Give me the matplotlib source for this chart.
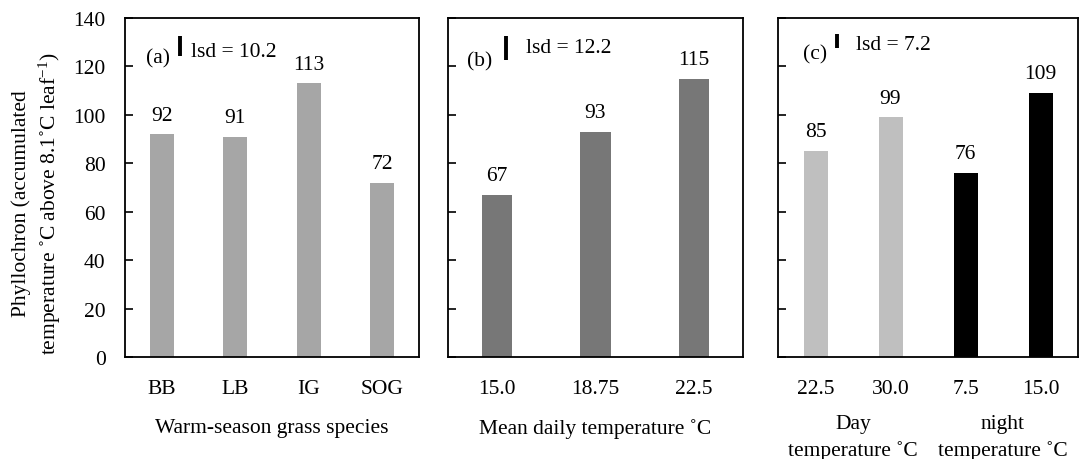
import matplotlib
matplotlib.use("Agg")
import matplotlib.pyplot as plt

plt.rcParams['font.family'] = ['Liberation Serif', 'DejaVu Serif']
plt.rcParams['mathtext.fontset'] = 'custom'
plt.rcParams['mathtext.rm'] = 'Liberation Serif'
plt.rcParams['mathtext.it'] = 'Liberation Serif:italic'

# ---- data ----
species = ["BB", "LB", "IG", "SOG"]
species_vals = [92, 91, 113, 72]
lsd_a = 10.2

mean_temps = ["15.0", "18.75", "22.5"]
mean_vals = [67, 93, 115]
lsd_b = 12.2

dn_labels = ["22.5", "30.0", "7.5", "15.0"]
dn_vals = [85, 99, 76, 109]
lsd_c = 7.2

col_a = "#a6a6a6"
col_b = "#777777"
col_c = ["#bfbfbf", "#bfbfbf", "#000000", "#000000"]

FS = 15.5
W, H = 1080, 460
fig = plt.figure(figsize=(W / 100, H / 100), dpi=100)

def add_ax(left_px, right_px):
    return fig.add_axes([left_px / W, 1 - 358 / H, (right_px - left_px) / W, (358 - 19) / H])

ax_a = add_ax(125, 419)
ax_b = add_ax(448, 743)
ax_c = add_ax(778, 1078)

def style(ax, n, labels, show_y):
    ax.set_xlim(-0.5, n - 0.5)
    ax.set_ylim(0, 140)
    ax.set_yticks(range(0, 141, 20))
    ax.tick_params(axis='y', direction='in', length=6, width=1.2, pad=14, labelsize=FS,
                   labelleft=show_y)
    ax.tick_params(axis='x', length=0, pad=16, labelsize=FS)
    ax.set_xticks(range(n))
    ax.set_xticklabels(labels)
    for s in ax.spines.values():
        s.set_linewidth(1.3)

def bars(ax, vals, colors, width):
    x = list(range(len(vals)))
    ax.bar(x, vals, width=width, color=colors, edgecolor='none')
    for xi, v in zip(x, vals):
        ax.annotate(str(v), (xi, v), xytext=(0, 7), textcoords='offset points',
                    ha='center', va='bottom', fontsize=FS)

def lsd(ax, x_lab, y_lab, x_bar, top, val, x_txt, y_txt, tag):
    ax.text(x_lab, y_lab, tag, ha='center', va='center', fontsize=FS)
    ax.vlines(x_bar, top - val * 0.8, top, colors='black', linewidth=2.8)
    ax.text(x_txt, y_txt, f"lsd = {val}", ha='left', va='center', fontsize=FS)

# panel a
bars(ax_a, species_vals, col_a, 0.32)
style(ax_a, 4, species, True)
lsd(ax_a, -0.05, 123.6, 0.245, 132.5, lsd_a, 0.40, 126.3, "(a)")
ax_a.set_xlabel("Warm-season grass species", fontsize=FS, labelpad=14)

# panel b
bars(ax_b, mean_vals, col_b, 0.31)
style(ax_b, 3, mean_temps, False)
lsd(ax_b, -0.18, 122.4, 0.09, 132.5, lsd_b, 0.29, 128.0, "(b)")
ax_b.set_xlabel("Mean daily temperature ˚C", fontsize=FS, labelpad=14)

# panel c
bars(ax_c, dn_vals, col_c, 0.32)
style(ax_c, 4, dn_labels, False)
lsd(ax_c, -0.01, 125.3, 0.29, 133.3, lsd_c, 0.54, 129.2, "(c)")
ax_c.annotate("Day\ntemperature ˚C", (0.5, -0.168), xycoords=('data', 'axes fraction'),
              ha='center', va='top', fontsize=FS, linespacing=1.45, annotation_clip=False)
ax_c.annotate("night\ntemperature ˚C", (2.5, -0.168), xycoords=('data', 'axes fraction'),
              ha='center', va='top', fontsize=FS, linespacing=1.45, annotation_clip=False)

fig.text(37 / W, 1 - 204 / H,
         "Phyllochron (accumulated\ntemperature ˚C above 8.1˚C leaf$^{-1}$)",
         rotation=90, ha='center', va='center', fontsize=FS, linespacing=1.3,
         multialignment='center')

fig.savefig("out.png", dpi=100)
